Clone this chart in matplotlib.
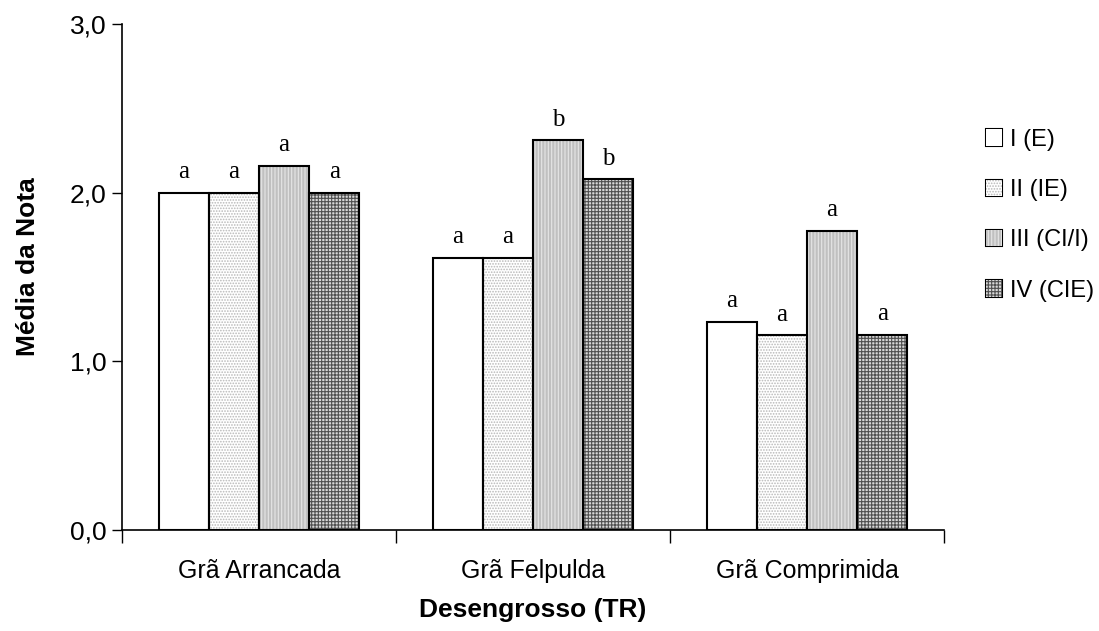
import numpy as np
import matplotlib.pyplot as plt

categorias = ["Grã Arrancada", "Grã Felpulda", "Grã Comprimida"]
series = ["I (E)", "II (IE)", "III (CI/I)", "IV (CIE)"]
v_I = [2.00, 1.615, 1.235]
v_II = [2.00, 1.615, 1.155]
v_III = [2.16, 2.31, 1.775]
v_IV = [2.00, 2.08, 1.158]
letras = [["a", "a", "a"], ["a", "a", "a"], ["a", "b", "a"], ["a", "b", "a"]]

plt.rcParams['font.family'] = ['Liberation Sans', 'DejaVu Sans']
plt.rcParams['hatch.linewidth'] = 0.8

# face colour, hatch pattern, hatch colour
estilos = [
    ("white", None, "white"),
    ("white", "......", "#b8b8b8"),
    ("#c0c0c0", "|||||", "#e6e6e6"),
    ("#d8d8d8", "+++++", "#505050"),
]

fig = plt.figure(figsize=(10.99, 6.31), dpi=100)
ax = fig.add_axes([0.111, 0.160, 0.748, 0.802])

x = np.arange(len(categorias))
largura = 0.183
valores = [v_I, v_II, v_III, v_IV]
handles = []
for i, (vals, (fc, hatch, hc)) in enumerate(zip(valores, estilos)):
    pos = x + (i - 1.5) * largura
    ax.bar(pos, vals, largura, color=fc, hatch=hatch, edgecolor=hc, linewidth=0, zorder=2)
    ax.bar(pos, vals, largura, fill=False, edgecolor="black", linewidth=1.5, zorder=3)
    for p, v, l in zip(pos, vals, letras[i]):
        ax.text(p, v + 0.085, l, ha="center", va="baseline", fontsize=18,
                family=["Liberation Serif", "DejaVu Serif"])
    h = plt.Rectangle((0, 0), 1, 1, facecolor=fc, hatch=hatch, edgecolor=hc, linewidth=0)
    handles.append(h)

ax.set_xlim(-0.5, 2.5)
ax.set_ylim(0, 3.0)
ax.set_yticks([0, 1, 2, 3])
ax.set_yticklabels(["0,0", "1,0", "2,0", "3,0"], fontsize=19)
ax.set_xticks([-0.5, 0.5, 1.5, 2.5])
ax.set_xticklabels([])
ax.set_xticks(x, minor=True)
ax.set_xticklabels(categorias, minor=True, fontsize=18)
ax.tick_params(axis="x", which="minor", length=0, pad=21)
ax.tick_params(axis="x", which="major", length=9, width=1, direction="out")
ax.tick_params(axis="y", length=7, width=1, direction="out", pad=4)
for s in ["top", "right"]:
    ax.spines[s].set_visible(False)
for s in ["left", "bottom"]:
    ax.spines[s].set_linewidth(1.2)

ax.set_ylabel("Média da Nota", fontsize=19, fontweight="bold")
ax.yaxis.set_label_coords(-0.1, 0.52)
ax.set_xlabel("Desengrosso (TR)", fontsize=19, fontweight="bold", va="top")
ax.xaxis.set_label_coords(0.5, -0.134)

leg = fig.legend(handles, series, loc="center left", bbox_to_anchor=(0.897, 0.659),
                 frameon=False, fontsize=17, handlelength=0.68, handleheight=0.68,
                 handletextpad=0.34, labelspacing=1.2, borderpad=0, borderaxespad=0)

fig.canvas.draw()
# black outlines over legend patches
for h in leg.legend_handles:
    bb = h.get_window_extent()
    r = plt.Rectangle((bb.x0, bb.y0), bb.width, bb.height, fill=False, edgecolor="black",
                      linewidth=1.5, transform=None, figure=fig)
    fig.patches.append(r)

fig.savefig("out.png", dpi=100)
